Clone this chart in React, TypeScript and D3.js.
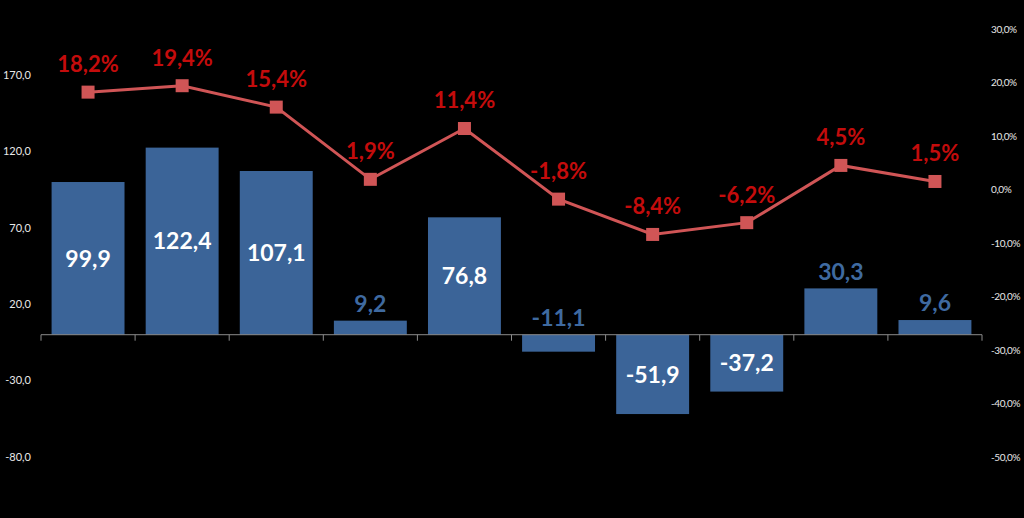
import React from "react";
import * as d3 from "d3";

const categories = ["P1", "P2", "P3", "P4", "P5", "P6", "P7", "P8", "P9", "P10"];
const barValues = [99.9, 122.4, 107.1, 9.2, 76.8, -11.1, -51.9, -37.2, 30.3, 9.6];
const pctValues = [18.2, 19.4, 15.4, 1.9, 11.4, -1.8, -8.4, -6.2, 4.5, 1.5];
const leftTicks = [-80, -30, 20, 70, 120, 170];
const rightTicks = [-50, -40, -30, -20, -10, 0, 10, 20, 30];

const W = 1024;
const H = 518;
const plot = { left: 41, right: 982, top: 29, bottom: 457 };

const fmt1 = (v: number) => v.toFixed(1).replace(".", ",");

export default function App() {
  const x = d3
    .scaleBand<string>()
    .domain(categories)
    .range([plot.left, plot.right])
    .paddingInner(0.225)
    .paddingOuter(0.1125);
  const xc = d3.scaleBand<string>().domain(categories).range([plot.left, plot.right]);
  const yL = d3.scaleLinear().domain([-80, 200]).range([plot.bottom, plot.top]);
  const yR = d3.scaleLinear().domain([-50, 30]).range([plot.bottom, plot.top]);

  const barColor = "#3b6498";
  const lineColor = "#d05556";
  const pctColor = "#c40c0c";
  const font = "Lato, Calibri, 'Open Sans', sans-serif";

  const line = d3
    .line<number>()
    .x((_, i) => (xc(categories[i]) as number) + xc.bandwidth() / 2)
    .y((d) => yR(d));

  const zero = yL(0);
  const boundaries = d3.range(categories.length + 1).map((i) => plot.left + i * xc.step());

  return (
    <div style={{ position: "fixed", left: 0, top: 0, width: W, height: H, background: "#000" }}>
      <svg width={W} height={H} style={{ display: "block" }}>
        <rect x={0} y={0} width={W} height={H} fill="#000" />
        {/* bars */}
        {barValues.map((v, i) => {
          const bx = x(categories[i]) as number;
          const y0 = Math.min(yL(v), zero);
          const h = Math.abs(yL(v) - zero);
          return <rect key={"b" + i} x={bx} y={y0} width={x.bandwidth()} height={h} fill={barColor} />;
        })}
        {/* category axis */}
        <line x1={plot.left} x2={plot.right} y1={zero} y2={zero} stroke="#8c8c8c" strokeWidth={1} />
        {boundaries.map((bx, i) => (
          <line key={"t" + i} x1={bx} x2={bx} y1={zero} y2={zero + 6} stroke="#8c8c8c" strokeWidth={1} />
        ))}
        {/* left axis labels */}
        {leftTicks.map((t) => (
          <text
            key={"l" + t}
            x={31}
            y={yL(t)}
            dy="0.35em"
            textAnchor="end"
            fill="#e8e8e8"
            fontSize={11}
            fontFamily={font}
          >
            {fmt1(t)}
          </text>
        ))}
        {/* right axis labels */}
        {rightTicks.map((t) => (
          <text
            key={"r" + t}
            x={991}
            y={yR(t)}
            dy="0.35em"
            textAnchor="start"
            fill="#e8e8e8"
            fontSize={10}
            letterSpacing={-0.4}
            fontFamily={font}
          >
            {fmt1(t) + "%"}
          </text>
        ))}
        {/* bar labels */}
        {barValues.map((v, i) => {
          const cx = (x(categories[i]) as number) + x.bandwidth() / 2;
          const small = Math.abs(v) < 35;
          const cy = small ? Math.min(yL(v), zero) - 17 : (yL(v) + zero) / 2;
          return (
            <text
              key={"bl" + i}
              x={cx}
              y={cy}
              dy="0.36em"
              textAnchor="middle"
              fill={small ? "#3f6aa0" : "#ffffff"}
              fontSize={23}
              fontWeight={700}
              fontFamily={font}
            >
              {fmt1(v)}
            </text>
          );
        })}
        {/* line */}
        <path d={line(pctValues) || ""} fill="none" stroke={lineColor} strokeWidth={3} />
        {pctValues.map((v, i) => {
          const cx = (xc(categories[i]) as number) + xc.bandwidth() / 2;
          return <rect key={"m" + i} x={cx - 6.5} y={yR(v) - 6.5} width={13} height={13} fill={lineColor} />;
        })}
        {pctValues.map((v, i) => {
          const cx = (xc(categories[i]) as number) + xc.bandwidth() / 2;
          return (
            <text
              key={"pl" + i}
              x={cx}
              y={yR(v) - 28}
              dy="0.36em"
              textAnchor="middle"
              fill={pctColor}
              fontSize={22}
              fontWeight={700}
              fontFamily={font}
            >
              {fmt1(v) + "%"}
            </text>
          );
        })}
      </svg>
    </div>
  );
}
